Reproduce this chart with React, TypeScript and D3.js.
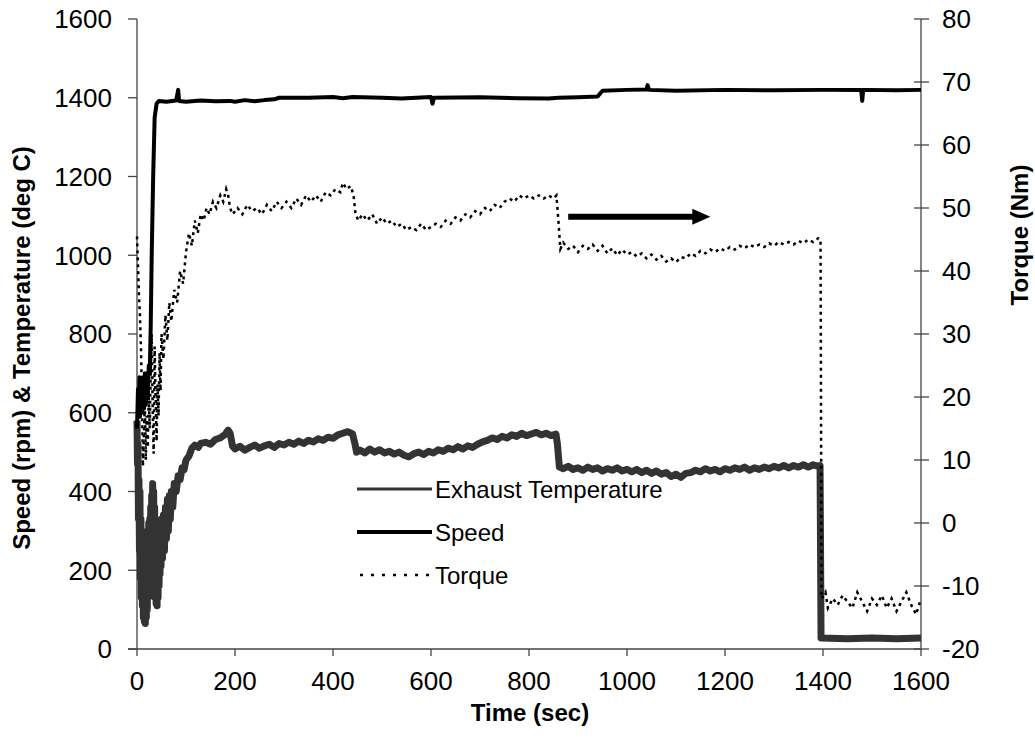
import React from "react";
import * as d3 from "d3";

// ---- Data ----
const xTicks = [0, 200, 400, 600, 800, 1000, 1200, 1400, 1600];
const yLeftTicks = [0, 200, 400, 600, 800, 1000, 1200, 1400, 1600];
const yRightTicks = [-20, -10, 0, 10, 20, 30, 40, 50, 60, 70, 80];

// Speed (rpm) : [time s, rpm]
const speed: [number, number][] = [
  [0, 560], [2, 660], [3, 600], [5, 690], [6, 590], [8, 680], [10, 600], [12, 690], [14, 610],
  [16, 700], [18, 620], [20, 700], [22, 640], [24, 720], [26, 700], [28, 820], [30, 1000],
  [33, 1200], [36, 1350], [40, 1385], [45, 1392], [60, 1390], [80, 1393], [84, 1420], [86, 1392],
  [100, 1390], [130, 1393], [160, 1391], [190, 1392], [200, 1390], [220, 1394], [240, 1391],
  [260, 1394], [280, 1396], [290, 1400], [350, 1400], [400, 1402], [420, 1399], [440, 1402],
  [500, 1400], [540, 1398], [600, 1402], [603, 1385], [606, 1400], [700, 1401], [780, 1399],
  [840, 1398], [860, 1400], [900, 1401], [940, 1403], [950, 1418], [1000, 1420], [1040, 1421],
  [1042, 1432], [1045, 1420], [1100, 1418], [1200, 1420], [1300, 1419], [1400, 1420],
  [1478, 1420], [1480, 1392], [1482, 1420], [1550, 1419], [1600, 1420],
];

// Exhaust temperature (deg C) : [time s, degC]
const exhaust: [number, number][] = [
  [0, 580], [1, 470], [2, 520], [3, 330], [4, 430], [5, 250], [6, 400], [7, 180], [8, 330],
  [9, 130], [10, 300], [11, 110], [12, 280], [13, 80], [14, 260], [15, 70], [16, 250], [17, 65],
  [18, 270], [19, 80], [20, 290], [21, 100], [22, 300], [23, 130], [24, 320], [25, 160],
  [26, 330], [27, 180], [28, 360], [29, 200], [30, 390], [31, 210], [32, 420], [33, 190],
  [34, 400], [35, 150], [36, 360], [37, 130], [38, 320], [39, 115], [40, 280], [41, 110],
  [42, 270], [43, 130], [44, 280], [45, 160], [46, 300], [47, 190], [48, 320], [49, 210],
  [50, 330], [52, 230], [54, 340], [56, 250], [58, 360], [60, 280], [62, 380], [64, 300],
  [66, 390], [68, 330], [70, 400], [73, 360], [76, 420], [80, 400], [84, 440], [88, 430],
  [92, 460], [96, 455], [100, 480], [106, 490], [112, 510], [118, 518], [125, 512], [130, 522],
  [140, 525], [150, 520], [160, 532], [170, 536], [180, 545], [186, 556], [190, 548], [195, 515],
  [200, 508], [210, 515], [220, 505], [230, 512], [240, 518], [250, 510], [260, 516], [270, 520],
  [280, 512], [290, 522], [300, 518], [310, 525], [320, 520], [330, 528], [340, 522], [350, 530],
  [360, 526], [370, 534], [380, 530], [390, 538], [400, 535], [410, 544], [420, 548], [430, 552],
  [440, 546], [445, 520], [448, 500], [455, 505], [465, 498], [475, 508], [485, 500], [495, 506],
  [505, 498], [515, 502], [525, 495], [535, 500], [545, 492], [555, 488], [565, 496], [575, 500],
  [585, 494], [595, 502], [605, 498], [615, 506], [625, 502], [635, 510], [645, 506], [655, 514],
  [665, 508], [675, 516], [685, 512], [695, 520], [705, 526], [715, 530], [725, 536], [735, 532],
  [745, 540], [755, 536], [765, 544], [775, 540], [785, 548], [795, 542], [805, 546], [815, 550],
  [825, 544], [835, 548], [845, 542], [855, 546], [858, 520], [862, 462], [870, 458], [880, 464],
  [890, 456], [900, 460], [910, 454], [920, 462], [930, 456], [940, 460], [950, 452], [960, 458],
  [970, 454], [980, 460], [990, 452], [1000, 456], [1010, 450], [1020, 456], [1030, 448],
  [1040, 454], [1050, 446], [1060, 452], [1070, 444], [1080, 448], [1090, 438], [1100, 444],
  [1110, 436], [1120, 446], [1130, 448], [1140, 454], [1150, 450], [1160, 458], [1170, 452],
  [1180, 456], [1190, 450], [1200, 458], [1210, 454], [1220, 460], [1230, 456], [1240, 462],
  [1250, 454], [1260, 460], [1270, 456], [1280, 462], [1290, 458], [1300, 464], [1310, 460],
  [1320, 466], [1330, 460], [1340, 466], [1350, 462], [1360, 468], [1370, 462], [1380, 468],
  [1390, 464], [1394, 466], [1396, 28], [1450, 26], [1500, 28], [1550, 26], [1600, 28],
];

// Torque (Nm, right axis) : [time s, Nm]
const torque: [number, number][] = [
  [0, 45.5], [2, 41], [4, 36], [6, 33], [8, 28], [10, 21], [12, 9], [14, 14], [16, 19], [18, 10],
  [20, 17], [22, 12], [24, 20], [26, 15], [28, 24], [30, 30], [32, 18], [34, 11], [36, 28],
  [38, 20], [40, 13], [42, 22], [44, 17], [46, 27], [48, 21], [50, 30], [54, 26], [58, 33],
  [62, 29], [66, 35], [70, 32], [76, 37], [82, 35], [88, 40], [94, 38], [100, 43], [106, 46],
  [112, 44], [118, 48], [124, 46], [130, 49], [136, 48], [142, 50], [148, 49], [155, 51],
  [162, 50], [170, 52], [176, 51], [182, 53], [186, 52], [190, 50], [195, 49], [205, 50],
  [215, 49], [225, 50.5], [235, 49.5], [245, 50], [255, 49], [265, 50.5], [275, 49.5], [285, 51],
  [295, 50], [305, 51], [315, 50], [325, 51.5], [335, 50.5], [345, 52], [355, 51], [365, 52],
  [375, 51], [385, 52.5], [395, 52], [405, 53], [415, 52.5], [420, 54], [428, 53], [436, 53.5],
  [442, 52], [446, 49], [452, 48], [460, 49], [470, 48], [480, 49], [490, 47.5], [500, 48.5],
  [510, 47.5], [520, 48], [530, 47], [540, 47.5], [550, 46.5], [560, 47], [570, 46.5],
  [580, 47.5], [590, 46.5], [600, 47], [610, 47.5], [620, 47], [630, 48], [640, 47.5],
  [650, 48.5], [660, 48], [670, 49], [680, 48.5], [690, 49.5], [700, 49], [710, 50], [720, 49.5],
  [730, 50.5], [740, 50], [750, 51], [760, 51.5], [770, 51], [780, 52], [790, 51.5], [800, 52],
  [810, 51.5], [820, 52], [830, 51.5], [840, 52], [850, 51.5], [856, 52], [860, 48], [864, 43.5],
  [870, 44.5], [880, 43.5], [890, 44], [900, 43], [910, 44], [920, 43.5], [930, 44.2], [940, 43.2],
  [950, 44], [960, 42.8], [970, 43.6], [980, 42.5], [990, 43.4], [1000, 42.6], [1010, 43],
  [1020, 42.3], [1030, 42.8], [1040, 42], [1050, 42.6], [1060, 41.8], [1070, 42.4], [1080, 41.5],
  [1090, 42], [1100, 41.4], [1110, 42.2], [1120, 42], [1130, 42.8], [1140, 42.4], [1150, 43.2],
  [1160, 42.8], [1170, 43.4], [1180, 43], [1190, 43.6], [1200, 43.2], [1210, 43.8], [1220, 43.4],
  [1230, 44], [1240, 43.6], [1250, 44.2], [1260, 43.8], [1270, 44.2], [1280, 43.8], [1290, 44.4],
  [1300, 44], [1310, 44.6], [1320, 44.2], [1330, 44.6], [1340, 44.2], [1350, 44.8], [1360, 44.4],
  [1370, 45], [1380, 44.6], [1390, 45.2], [1395, 45], [1397, -12], [1405, -11], [1410, -13.5],
  [1420, -12], [1430, -13], [1440, -11.5], [1450, -12.5], [1460, -13.5], [1470, -11],
  [1480, -12.5], [1490, -14], [1500, -12], [1510, -13], [1520, -11.5], [1530, -13.5], [1540, -12],
  [1550, -14], [1560, -12.5], [1570, -11], [1580, -13], [1590, -14.5], [1600, -12],
];

// Arrow annotation (time s, torque Nm)
const arrowStart: [number, number] = [880, 48.6];
const arrowEnd: [number, number] = [1170, 48.6];

const legendItems = ["Exhaust Temperature", "Speed", "Torque"];

export default function App() {
  const W = 1035;
  const H = 742;
  const left = 137, right = 921, top = 19, bottom = 649;
  const font = "'Liberation Sans', Arial, sans-serif";

  const x = d3.scaleLinear().domain([0, 1600]).range([left, right]);
  const yL = d3.scaleLinear().domain([0, 1600]).range([bottom, top]);
  const yR = d3.scaleLinear().domain([-20, 80]).range([bottom, top]);

  const lineL = d3.line<[number, number]>().x((d) => x(d[0])).y((d) => yL(d[1]));
  const lineR = d3.line<[number, number]>().x((d) => x(d[0])).y((d) => yR(d[1]));

  const ax1 = x(arrowStart[0]);
  const ax2 = x(arrowEnd[0]);
  const ay = yR(arrowStart[1]);

  const legX1 = 357, legX2 = 432, legY0 = 489, legDy = 43;

  return (
    <svg width={W} height={H} style={{ position: "absolute", left: 0, top: 0, background: "#fff" }}>
      <rect x={0} y={0} width={W} height={H} fill="#fff" />
      {/* axes */}
      <line x1={left} x2={left} y1={top} y2={bottom} stroke="#444" strokeWidth={1.3} />
      <line x1={right} x2={right} y1={top} y2={bottom} stroke="#444" strokeWidth={1.3} />
      <line x1={left - 9} x2={right} y1={bottom} y2={bottom} stroke="#444" strokeWidth={1.3} />
      {yLeftTicks.map((t) => (
        <g key={"yl" + t}>
          <line x1={left - 9} x2={left} y1={yL(t)} y2={yL(t)} stroke="#444" strokeWidth={1.3} />
          <text x={left - 25} y={yL(t)} dy="0.36em" textAnchor="end" fontFamily={font} fontSize={26} fill="#000">
            {t}
          </text>
        </g>
      ))}
      {yRightTicks.map((t) => (
        <g key={"yr" + t}>
          <line x1={right - 7} x2={right + 8} y1={yR(t)} y2={yR(t)} stroke="#444" strokeWidth={1.3} />
          <text x={right + 21} y={yR(t)} dy="0.36em" textAnchor="start" fontFamily={font} fontSize={26} fill="#000">
            {t}
          </text>
        </g>
      ))}
      {xTicks.map((t) => (
        <g key={"x" + t}>
          <line x1={x(t)} x2={x(t)} y1={bottom} y2={bottom + 7} stroke="#444" strokeWidth={1.3} />
          <text x={x(t)} y={bottom + 41} textAnchor="middle" fontFamily={font} fontSize={26} fill="#000">
            {t}
          </text>
        </g>
      ))}

      {/* series */}
      <path d={lineL(exhaust) || ""} fill="none" stroke="#333" strokeWidth={7} strokeLinejoin="round" />
      <path d={lineR(torque) || ""} fill="none" stroke="#000" strokeWidth={2.5} strokeDasharray="3,4" />
      <path d={lineL(speed) || ""} fill="none" stroke="#000" strokeWidth={4} strokeLinejoin="round" />

      {/* arrow */}
      <line x1={ax1} x2={ax2 - 16} y1={ay} y2={ay} stroke="#000" strokeWidth={6} />
      <path d={`M${ax2 - 18},${ay - 8} L${ax2},${ay} L${ax2 - 18},${ay + 8} Z`} fill="#000" />

      {/* legend */}
      {legendItems.map((name, i) => {
        const y = legY0 + i * legDy;
        return (
          <g key={name}>
            {i === 0 && <line x1={legX1} x2={legX2} y1={y} y2={y} stroke="#333" strokeWidth={3} />}
            {i === 1 && <line x1={legX1} x2={legX2} y1={y} y2={y} stroke="#000" strokeWidth={4} />}
            {i === 2 && (
              <line x1={legX1 + 3} x2={legX2} y1={y} y2={y} stroke="#000" strokeWidth={2.5} strokeDasharray="3,8" />
            )}
            <text x={legX2 + 3} y={y} dy="0.36em" fontFamily={font} fontSize={24} fill="#000">
              {name}
            </text>
          </g>
        );
      })}

      {/* axis titles */}
      <text x={530} y={721} textAnchor="middle" fontFamily={font} fontSize={24} fontWeight="bold">
        Time (sec)
      </text>
      <text
        transform={`translate(30, 348) rotate(-90)`}
        textAnchor="middle"
        fontFamily={font}
        fontSize={24}
        fontWeight="bold"
      >
        Speed (rpm) &amp; Temperature (deg C)
      </text>
      <text
        transform={`translate(1028, 235) rotate(-90)`}
        textAnchor="middle"
        fontFamily={font}
        fontSize={24}
        fontWeight="bold"
      >
        Torque (Nm)
      </text>
    </svg>
  );
}
